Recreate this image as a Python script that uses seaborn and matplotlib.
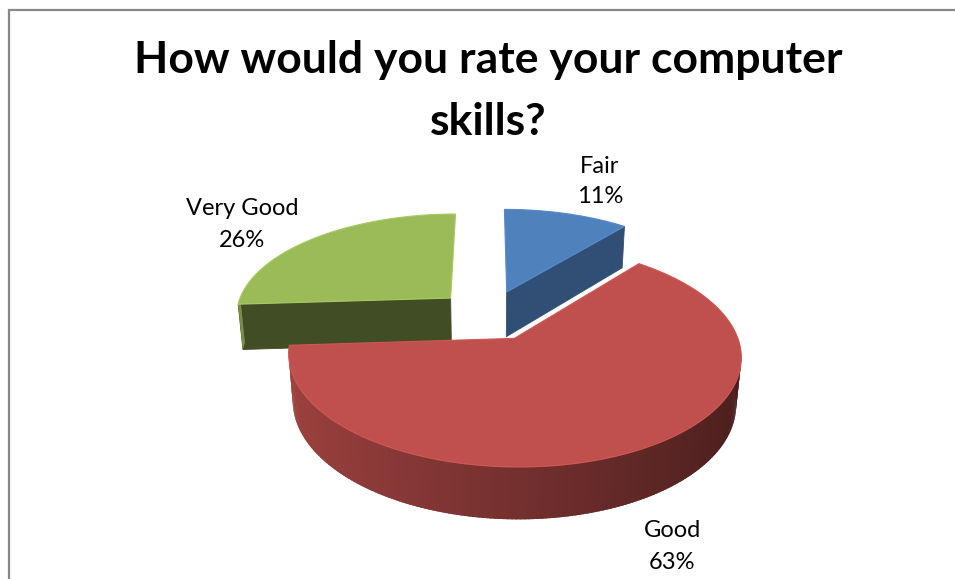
import numpy as np
import matplotlib
matplotlib.use("Agg")
import matplotlib.pyplot as plt
import seaborn as sns

# ---- data ----
categories = ["Fair", "Good", "Very Good"]
percent = [11, 63, 26]
title_lines = ["How would you rate your computer", "skills?"]

# ---- style ----
sns.set_theme(style="white")
plt.rcParams['font.family'] = ['Lato', 'DejaVu Sans']
top_colors = sns.color_palette(["#4F81BD", "#C0504D", "#9BBB59"])

W, H = 955, 579
fig = plt.figure(figsize=(W / 100, H / 100), dpi=100)
ax = fig.add_axes([0, 0, 1, 1])
ax.set_xlim(0, W)
ax.set_ylim(H, 0)
ax.axis('off')

# ---- simple 3D camera for the tilted pie ----
phi = np.deg2rad(28)
sa, ca = np.sin(phi), np.cos(phi)
D = 5.86          # perspective distance
K = 216           # pixel radius
cx, cy = 489, 315
explode = 0.25
depth = 0.245


def project(x, y, z):
    x = np.asarray(x, float); y = np.asarray(y, float); z = np.asarray(z, float)
    v = y * sa + z * ca
    w = y * ca - z * sa
    s = D / (D + w)
    return cx + K * x * s, cy - K * v * s


def shade(c, f):
    return tuple(np.clip(np.array(c) * f, 0, 1))


fracs = np.array(percent, float) / sum(percent)
ends = np.cumsum(fracs) * 2 * np.pi
starts = ends - fracs * 2 * np.pi
mids = (starts + ends) / 2
offs = [(explode * np.sin(m), explode * np.cos(m)) for m in mids]

order = sorted(range(len(percent)), key=lambda i: -offs[i][1])  # back to front

for i in order:
    s0, e0 = starts[i], ends[i]
    ox, oy = offs[i]
    col = top_colors[i]
    th = np.linspace(s0, e0, 240)
    step = th[1] - th[0]

    # cut faces (radial sides)
    faces = []
    if np.sin(s0) < -1e-9:
        faces.append((s0, -np.cos(s0)))
    if np.sin(e0) > 1e-9:
        faces.append((e0, np.cos(e0)))
    for ang, nx in faces:
        xs = [ox, ox + np.sin(ang), ox + np.sin(ang), ox]
        ys = [oy, oy + np.cos(ang), oy + np.cos(ang), oy]
        zs = [0, 0, -depth, -depth]
        px, py = project(xs, ys, zs)
        c = shade(col, 0.4 + 0.28 * max(nx, 0))
        ax.fill(px, py, color=c, lw=0.6, ec=c)

    # outer curved wall (front-facing part), slightly overlapping strips
    for a in th[:-1]:
        b = min(a + 1.8 * step, e0)
        m = a + step / 2
        if np.cos(m) >= 0:
            continue
        xs = [ox + np.sin(a), ox + np.sin(b), ox + np.sin(b), ox + np.sin(a)]
        ys = [oy + np.cos(a), oy + np.cos(b), oy + np.cos(b), oy + np.cos(a)]
        zs = [0, 0, -depth, -depth]
        px, py = project(xs, ys, zs)
        c = shade(col, 0.6 - 0.22 * np.sin(m))
        ax.fill(px, py, color=c, lw=0)

    # top face
    xs = np.concatenate([[ox], ox + np.sin(th)])
    ys = np.concatenate([[oy], oy + np.cos(th)])
    px, py = project(xs, ys, np.zeros_like(xs))
    ax.fill(px, py, color=col, lw=0.8, ec=shade(col, 1.08))

# ---- chart border (top and left visible) ----
ax.plot([8.5, 8.5, 980], [620, 9.5, 9.5], color='#878787', lw=1.6,
        clip_on=False, solid_joinstyle='miter')

# ---- texts ----
fig.canvas.draw()
renderer = fig.canvas.get_renderer()


def fit_width(t, target):
    bb = t.get_window_extent(renderer)
    t.set_fontsize(t.get_fontsize() * target / bb.width)


t1 = ax.text(488, 73, title_lines[0], ha='center', va='baseline',
             fontweight='bold', fontsize=30, color='black')
t2 = ax.text(488, 135, title_lines[1], ha='center', va='baseline',
             fontweight='bold', fontsize=30, color='black')
fit_width(t1, 707)
t2.set_fontsize(t1.get_fontsize())

label_pos = {"Fair": (600, 173, 203), "Good": (672, 537, 569),
             "Very Good": (242, 215, 247)}
probe = ax.text(0, 0, "Very Good", fontsize=15)
fit_width(probe, 113)
lfs = probe.get_fontsize()
probe.remove()
for cat, p in zip(categories, percent):
    x, y1, y2 = label_pos[cat]
    ax.text(x, y1, cat, ha='center', va='baseline', fontsize=lfs, color='black')
    ax.text(x, y2, f"{p}%", ha='center', va='baseline', fontsize=lfs, color='black')

fig.savefig("out.png", dpi=100, facecolor='white')
